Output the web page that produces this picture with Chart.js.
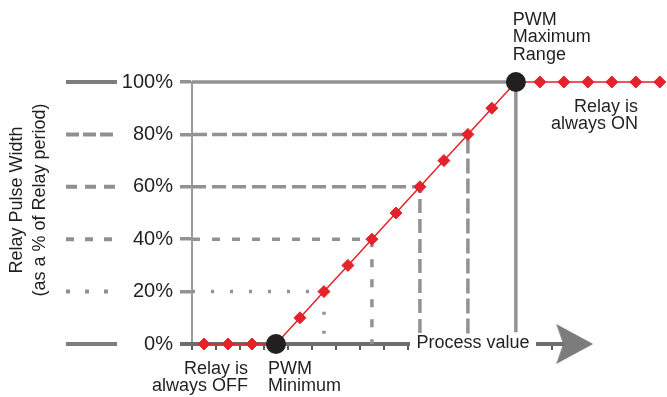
<!DOCTYPE html>
<html>
<head>
<meta charset="utf-8">
<script src="https://cdn.jsdelivr.net/npm/chart.js@4.4.0/dist/chart.umd.min.js"></script>
<style>
  html, body { margin: 0; padding: 0; background: #fff; }
  #wrap { width: 667px; height: 397px; }
</style>
</head>
<body>
<div id="wrap"><canvas id="pwm-chart"></canvas></div>
<script>
// Relay always OFF, ramp, relay always ON (x in process-value steps, y in % of relay period)
const offX = [0.5, 1.5, 2.5];
const offY = [0, 0, 0];
const rampX = [4.5, 5.5, 6.5, 7.5, 8.5, 9.5, 10.5, 11.5, 12.5];
const rampY = [10, 20, 30, 40, 50, 60, 70, 80, 90];
const onX = [14.5, 15.5, 16.5, 17.5, 18.5, 19.5];
const onY = [100, 100, 100, 100, 100, 100];

// PWM minimum / maximum range points
const pwmX = [3.5, 13.5];
const pwmY = [0, 100];

// guide lines from the y axis to the ramp, then down to the process axis
const guideLevels = [20, 40, 60, 80, 100];
const guideX = [5.5, 7.5, 9.5, 11.5, 13.5];
const guideBottom = [0, 0, 0, 0, 4.5];

// axis ticks
const yTicks = [0, 20, 40, 60, 80, 100];
const xTickMarks = [0, 1, 2, 3, 4, 5, 6, 7, 8, 9, 15, 16];
const axisX = [-0.5, 15.5];
const arrowX = [15.95];

const GRAY = '#929292';
const TEXT = '#231f20';
const FONT = '"Liberation Sans", Arial, sans-serif';

// dash style per level, inside the plot and in the little legend on the left
const dashInside = { 20: [3, 16], 40: [8, 12], 60: [14, 6], 80: [15, 5], 100: [] };
const dashLeft = { 0: [], 20: [4, 15], 40: [8, 11], 60: [11, 8], 80: [13, 4], 100: [] };

function makeArrow() {
  const c = document.createElement('canvas');
  c.width = 37; c.height = 40;
  const g = c.getContext('2d');
  g.fillStyle = '#7c7c7c';
  g.beginPath();
  g.moveTo(37, 20);
  g.lineTo(0, 0);
  g.lineTo(7, 20);
  g.lineTo(0, 40);
  g.closePath();
  g.fill();
  return c;
}

function pairs(xs, ys) {
  return xs.map((x, i) => ({ x: x, y: ys[i] }));
}

const redLine = pairs(offX, offY)
  .concat([{ x: pwmX[0], y: pwmY[0] }])
  .concat(pairs(rampX, rampY))
  .concat([{ x: pwmX[1], y: pwmY[1] }])
  .concat(pairs(onX, onY));

const datasets = [
  {
    data: pairs(pwmX, pwmY),
    showLine: false,
    pointRadius: 10,
    pointBackgroundColor: '#231f20',
    pointBorderWidth: 0
  },
  {
    data: redLine,
    borderColor: '#e3222a',
    borderWidth: 1.5,
    pointStyle: 'rectRot',
    pointRadius: 6,
    pointBackgroundColor: '#e3222a',
    pointBorderColor: '#e3222a',
    pointBorderWidth: 1
  }
];

guideLevels.forEach(function (lvl, i) {
  datasets.push({
    data: [
      { x: 0, y: lvl },
      { x: guideX[i], y: lvl },
      { x: guideX[i], y: guideBottom[i] }
    ],
    borderColor: GRAY,
    borderWidth: 3.5,
    borderDash: dashInside[lvl],
    pointRadius: 0
  });
});

datasets.push({
  data: [{ x: axisX[0], y: 0 }, { x: axisX[1], y: 0 }],
  borderColor: '#6d6d6d',
  borderWidth: 4,
  pointRadius: 0
});

datasets.push({
  data: [{ x: arrowX[0], y: 0 }],
  showLine: false,
  pointStyle: makeArrow(),
  pointRadius: 18
});

// texts and the dashed legend left of the y labels
const annotations = {
  id: 'annotations',
  afterDatasetsDraw(chart) {
    const ctx = chart.ctx;
    const x = chart.scales.x;
    const y = chart.scales.y;
    ctx.save();

    // left legend segments
    yTicks.forEach(function (v) {
      ctx.beginPath();
      ctx.setLineDash(dashLeft[v]);
      ctx.lineWidth = 4;
      ctx.strokeStyle = (v === 0 || v === 100) ? '#7d7d7d' : '#8f8f8f';
      ctx.moveTo(66, y.getPixelForValue(v));
      ctx.lineTo(117, y.getPixelForValue(v));
      ctx.stroke();
    });
    ctx.setLineDash([]);

    // axis title
    ctx.fillStyle = TEXT;
    ctx.font = '18px ' + FONT;
    ctx.textAlign = 'center';
    ctx.textBaseline = 'middle';
    ctx.save();
    ctx.translate(17, 200);
    ctx.rotate(-Math.PI / 2);
    ctx.fillText('Relay Pulse Width', 0, 0);
    ctx.restore();
    ctx.save();
    ctx.translate(40, 200);
    ctx.rotate(-Math.PI / 2);
    ctx.fillText('(as a % of Relay period)', 0, 0);
    ctx.restore();

    // process value label on the axis
    const y0 = y.getPixelForValue(0);
    ctx.fillStyle = '#fff';
    ctx.fillRect(410, y0 - 10, 126, 20);
    ctx.fillStyle = TEXT;
    ctx.fillText('Process value', 473, y0 - 1);

    // notes
    const minPx = x.getPixelForValue(pwmX[0]);
    const maxPx = x.getPixelForValue(pwmX[1]);
    const topPx = y.getPixelForValue(100);
    ctx.textAlign = 'right';
    ctx.fillText('Relay is', minPx - 28, y0 + 25);
    ctx.fillText('always OFF', minPx - 28, y0 + 42);
    ctx.fillText('Relay is', 638, topPx + 25);
    ctx.fillText('always ON', 638, topPx + 42);
    ctx.textAlign = 'left';
    ctx.fillText('PWM', minPx - 8, y0 + 25);
    ctx.fillText('Minimum', minPx - 8, y0 + 42);
    ctx.fillText('PWM', maxPx - 3, 20);
    ctx.fillText('Maximum', maxPx - 3, 37.5);
    ctx.fillText('Range', maxPx - 3, 55);
    ctx.restore();
  }
};

new Chart(document.getElementById('pwm-chart'), {
  type: 'line',
  data: { datasets: datasets },
  options: {
    responsive: true,
    maintainAspectRatio: false,
    animation: false,
    layout: { autoPadding: false, padding: { top: 82, right: 0, bottom: 0, left: 0 } },
    datasets: { line: { clip: false } },
    plugins: {
      legend: { display: false },
      tooltip: { enabled: false }
    },
    scales: {
      x: {
        type: 'linear',
        min: 0,
        max: 19.8,
        afterBuildTicks: function (axis) {
          axis.ticks = xTickMarks.map(v => ({ value: v }));
        },
        afterFit: function (axis) { axis.height = 53; },
        ticks: { display: false },
        border: { display: false },
        grid: {
          drawOnChartArea: false,
          tickLength: 6,
          lineWidth: 2,
          color: '#5a5a5a'
        }
      },
      y: {
        min: 0,
        max: 100,
        afterBuildTicks: function (axis) {
          axis.ticks = yTicks.map(v => ({ value: v }));
        },
        afterFit: function (axis) { axis.width = 192; },
        ticks: {
          padding: 7,
          color: TEXT,
          font: { size: 20, family: FONT },
          callback: v => v + '%'
        },
        border: { color: '#9b9b9b', width: 2 },
        grid: {
          drawOnChartArea: false,
          tickLength: 12,
          lineWidth: 3.5,
          color: ctx => (ctx.tick && (ctx.tick.value === 0)) ? '#6d6d6d' : GRAY
        }
      }
    }
  },
  plugins: [annotations]
});
</script>
</body>
</html>
